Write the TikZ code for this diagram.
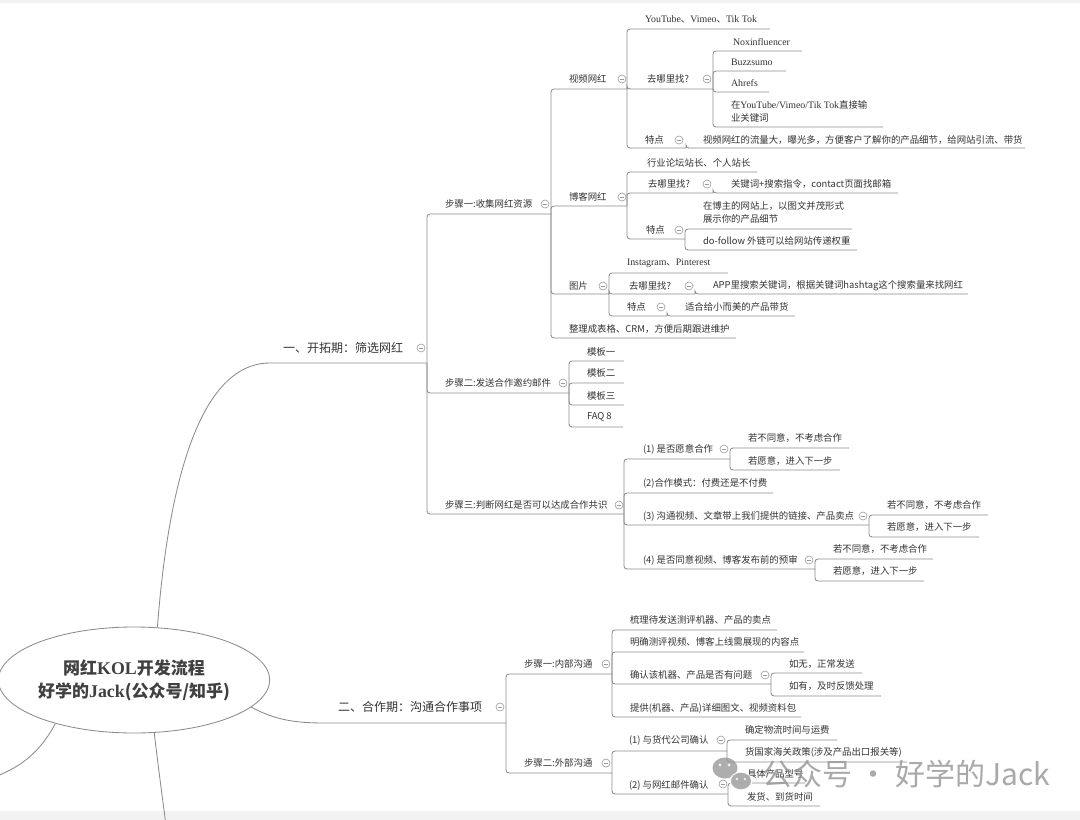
\documentclass[tikz,border=0pt]{standalone}
\usepackage{fontspec}
\setmainfont{Noto Sans CJK SC}
\newfontfamily\ls{Liberation Serif}[Scale=1.05]
\usetikzlibrary{shapes.geometric}
\definecolor{textc}{HTML}{333333}
\definecolor{linec}{HTML}{8C8C8C}
\definecolor{circc}{HTML}{9A9A9A}
\newcommand\mtopic[6][]{\node[txt,#1] (#2) at (#3,#4) {#6}; \coordinate (#2-e) at #5;}
\newcommand\mconn[2]{\draw[conn] (#1-e) |- (#2-e);}
\newcommand\mcol[3]{\node[col] (#1-c) at (#2,#3) {};}
\begin{document}
\begin{tikzpicture}[x=1pt,y=-1pt,
 txt/.style={inner sep=0pt, outer sep=0pt, anchor=west, align=left, text=textc, font=\fontsize{9.4}{13}\selectfont},
 big/.style={font=\fontsize{12}{14}\selectfont},
 conn/.style={draw=linec, line width=0.85pt, rounded corners=3pt},
 curve/.style={draw=linec, line width=0.85pt},
 col/.style={circle, draw=circc, line width=0.6pt, minimum size=8pt, inner sep=0pt, fill=white,
   path picture={\draw[circc, line width=0.6pt] ([xshift=-2.2pt]path picture bounding box.center) -- ([xshift=2.2pt]path picture bounding box.center);}}]
\useasboundingbox (0,0) rectangle (1080,820);
\clip (0,0) rectangle (1080,820);
\fill[white] (0,0) rectangle (1080,820);
\fill[black!5] (0,0) rectangle (1080,2.5);
\fill[black!5] (0,811) rectangle (1080,820);

% root
\node[ellipse, draw=linec, line width=0.85pt, minimum width=268pt, minimum height=106pt, inner sep=0pt, align=center, text=black!75, font=\fontsize{17}{23}\selectfont\bfseries] (root) at (134,680) {网红{\ls\bfseries KOL}开发流程\\好学的{\ls\bfseries Jack}(公众号/知乎)};

% main branches
\mtopic[big]{b1}{283}{348}{(427,363)}{一、开拓期：筛选网红}
\mcol{b1}{421}{348}
\draw[curve] (root.66) .. controls (167,500) and (195,363) .. (270,363) -- (b1-e);

\mtopic[big]{b2}{338}{707}{(506,723)}{二、合作期：沟通合作事项}
\mcol{b2}{500}{707}
\draw[curve] (root.-13) .. controls (275,720) and (295,723) .. (325,723) -- (b2-e);

\coordinate (off1) at (-3,776);
\coordinate (off2) at (166,825);
\draw[curve] (root.-151) .. controls (40,752) and (22,766) .. (off1);
\draw[curve] (root.-69) .. controls (158,765) and (162,795) .. (off2);

% step 1
\mtopic{s1}{445}{204}{(551,214)}{步骤一:收集网红资源} \mcol{s1}{545}{204}
\mtopic{v}{569}{79}{(627,89)}{视频网红} \mcol{v}{622}{79}
\mtopic{v1}{645}{19}{(770,29)}{{\ls YouTube}、{\ls Vimeo}、{\ls Tik Tok}}
\mtopic{v2}{647}{79}{(713,89)}{去哪里找?} \mcol{v2}{707}{79}
\mtopic{v21}{733}{42}{(802,51)}{\ls Noxinfluencer}
\mtopic{v22}{731}{62}{(786,71)}{\ls Buzzsumo}
\mtopic{v23}{731}{83}{(769,92)}{\ls Ahrefs}
\mtopic{v24}{731}{111.5}{(883,127)}{在{\ls YouTube/Vimeo/Tik Tok}直接输\\业关键词}
\mtopic{v3}{645}{140}{(686,148)}{特点} \mcol{v3}{679}{140}
\mtopic{v31}{703}{140}{(1025,148)}{视频网红的流量大，曝光多，方便客户了解你的产品细节，给网站引流、带货}

\mtopic{bl}{569}{197}{(627,206)}{博客网红} \mcol{bl}{622}{197}
\mtopic{bl1}{647}{163}{(757,172)}{行业论坛站长、个人站长}
\mtopic{bl2}{648}{184}{(713,193)}{去哪里找?} \mcol{bl2}{707}{184}
\mtopic{bl21}{731}{184}{(898,193)}{关键词+搜索指令，contact页面找邮箱}
\mtopic{bl3}{646}{230}{(685,239)}{特点} \mcol{bl3}{679}{230}
\mtopic{bl31}{703}{212.5}{(852,229)}{在博主的网站上，以图文并茂形式\\展示你的产品细节}
\mtopic{bl32}{703}{241}{(857,250)}{do-follow 外链可以给网站传递权重}

\mtopic{pi}{569}{286}{(609,294)}{图片} \mcol{pi}{603}{286}
\mtopic{pi1}{627}{263}{(728,273)}{{\ls Instagram}、{\ls Pinterest}}
\mtopic{pi2}{629}{286}{(695,294)}{去哪里找?} \mcol{pi2}{689}{286}
\mtopic{pi21}{713}{286}{(968,294)}{APP里搜索关键词，根据关键词hashtag这个搜索量来找网红}
\mtopic{pi3}{627}{307}{(667,316)}{特点} \mcol{pi3}{661}{307}
\mtopic{pi31}{685}{307}{(795,316)}{适合给小而美的产品带货}
\mtopic{tb}{569}{329}{(736,338)}{整理成表格、CRM，方便后期跟进维护}

% step 2
\mtopic{s2}{445}{383}{(569,393)}{步骤二:发送合作邀约邮件} \mcol{s2}{563}{383}
\mtopic{m1}{587}{352}{(624,361)}{模板一}
\mtopic{m2}{587}{373}{(624,383)}{模板二}
\mtopic{m3}{587}{396}{(624,405)}{模板三}
\mtopic{m4}{587}{417}{(623,427)}{FAQ 8}

% step 3
\mtopic{s3}{445}{505}{(624,514)}{步骤三:判断网红是否可以达成合作共识} \mcol{s3}{619}{505}
\mtopic{q1}{643}{449}{(730,459)}{(1) 是否愿意合作} \mcol{q1}{724}{449}
\mtopic{q11}{748}{438}{(849,448)}{若不同意，不考虑合作}
\mtopic{q12}{748}{461}{(840,470)}{若愿意，进入下一步}
\mtopic{q2}{643}{483}{(773,493)}{(2)合作模式：付费还是不付费}
\mtopic{q3}{643}{516}{(869,525)}{(3) 沟通视频、文章带上我们提供的链接、产品卖点} \mcol{q3}{863}{516}
\mtopic{q31}{887}{505}{(988,515)}{若不同意，不考虑合作}
\mtopic{q32}{887}{527}{(979,537)}{若愿意，进入下一步}
\mtopic{q4}{643}{560}{(815,569)}{(4) 是否同意视频、博客发布前的预审} \mcol{q4}{809}{560}
\mtopic{q41}{833}{549}{(933,559)}{若不同意，不考虑合作}
\mtopic{q42}{833}{571}{(924,581)}{若愿意，进入下一步}

% branch 2
\mtopic{in}{524}{664}{(612,674)}{步骤一:内部沟通} \mcol{in}{606}{664}
\mtopic{in1}{630}{620}{(777,630)}{梳理待发送测评机器、产品的卖点}
\mtopic{in2}{630}{642}{(804,652)}{明确测评视频、博客上线需展现的内容点}
\mtopic{in3}{630}{675}{(771,684)}{确认该机器、产品是否有问题} \mcol{in3}{765}{675}
\mtopic{in31}{789}{664}{(862,673)}{如无，正常发送}
\mtopic{in32}{789}{686}{(881,696)}{如有，及时反馈处理}
\mtopic{in4}{630}{708}{(801,717)}{提供(机器、产品)详细图文、视频资料包}
\mtopic{ou}{524}{763}{(612,773)}{步骤二:外部沟通} \mcol{ou}{606}{763}
\mtopic{ou1}{629}{740}{(727,751)}{(1) 与货代公司确认} \mcol{ou1}{721}{740}
\mtopic{ou11}{745}{730}{(837,740)}{确定物流时间与运费}
\mtopic{ou12}{745}{752}{(907,762)}{货国家海关政策(涉及产品出口报关等)}
\mtopic{ou2}{629}{785}{(728,794)}{(2) 与网红邮件确认} \mcol{ou2}{723}{784}
\mtopic{ou21}{747}{774}{(805,783)}{具体产品型号}
\mtopic{ou22}{747}{797}{(820,806)}{发货、到货时间}

% connectors
\mconn{b1}{s1} \mconn{b1}{s2} \mconn{b1}{s3}
\mconn{s1}{v} \mconn{s1}{bl} \mconn{s1}{pi} \mconn{s1}{tb}
\mconn{v}{v1} \mconn{v}{v2} \mconn{v}{v3}
\mconn{v2}{v21} \mconn{v2}{v22} \mconn{v2}{v23} \mconn{v2}{v24}
\mconn{v3}{v31}
\mconn{bl}{bl1} \mconn{bl}{bl2} \mconn{bl}{bl3}
\mconn{bl2}{bl21}
\mconn{bl3}{bl31} \mconn{bl3}{bl32}
\mconn{pi}{pi1} \mconn{pi}{pi2} \mconn{pi}{pi3}
\mconn{pi2}{pi21} \mconn{pi3}{pi31}
\mconn{s2}{m1} \mconn{s2}{m2} \mconn{s2}{m3} \mconn{s2}{m4}
\mconn{s3}{q1} \mconn{s3}{q2} \mconn{s3}{q3} \mconn{s3}{q4}
\mconn{q1}{q11} \mconn{q1}{q12}
\mconn{q3}{q31} \mconn{q3}{q32}
\mconn{q4}{q41} \mconn{q4}{q42}
\mconn{b2}{in} \mconn{b2}{ou}
\mconn{in}{in1} \mconn{in}{in2} \mconn{in}{in3} \mconn{in}{in4}
\mconn{in3}{in31} \mconn{in3}{in32}
\mconn{ou}{ou1} \mconn{ou}{ou2}
\mconn{ou1}{ou11} \mconn{ou1}{ou12}
\mconn{ou2}{ou21} \mconn{ou2}{ou22}

% watermark
\begin{scope}[opacity=0.8]
\fill[black!40] (725,768) ellipse [x radius=12.5pt, y radius=10.5pt];
\fill[white] (741,781) ellipse [x radius=11.5pt, y radius=9.5pt];
\fill[black!40] (741,781) ellipse [x radius=10pt, y radius=8.3pt];
\fill[white] (720,765) circle [radius=1.6pt];
\fill[white] (729,765) circle [radius=1.6pt];
\fill[white] (737,779) circle [radius=1.3pt];
\fill[white] (745,779) circle [radius=1.3pt];
\node[inner sep=0pt, anchor=west, text=black!42, font=\fontsize{30}{30}\selectfont] (wm) at (762,774) {公众号 · 好学的Jack};
\end{scope}
\end{tikzpicture}
\end{document}
